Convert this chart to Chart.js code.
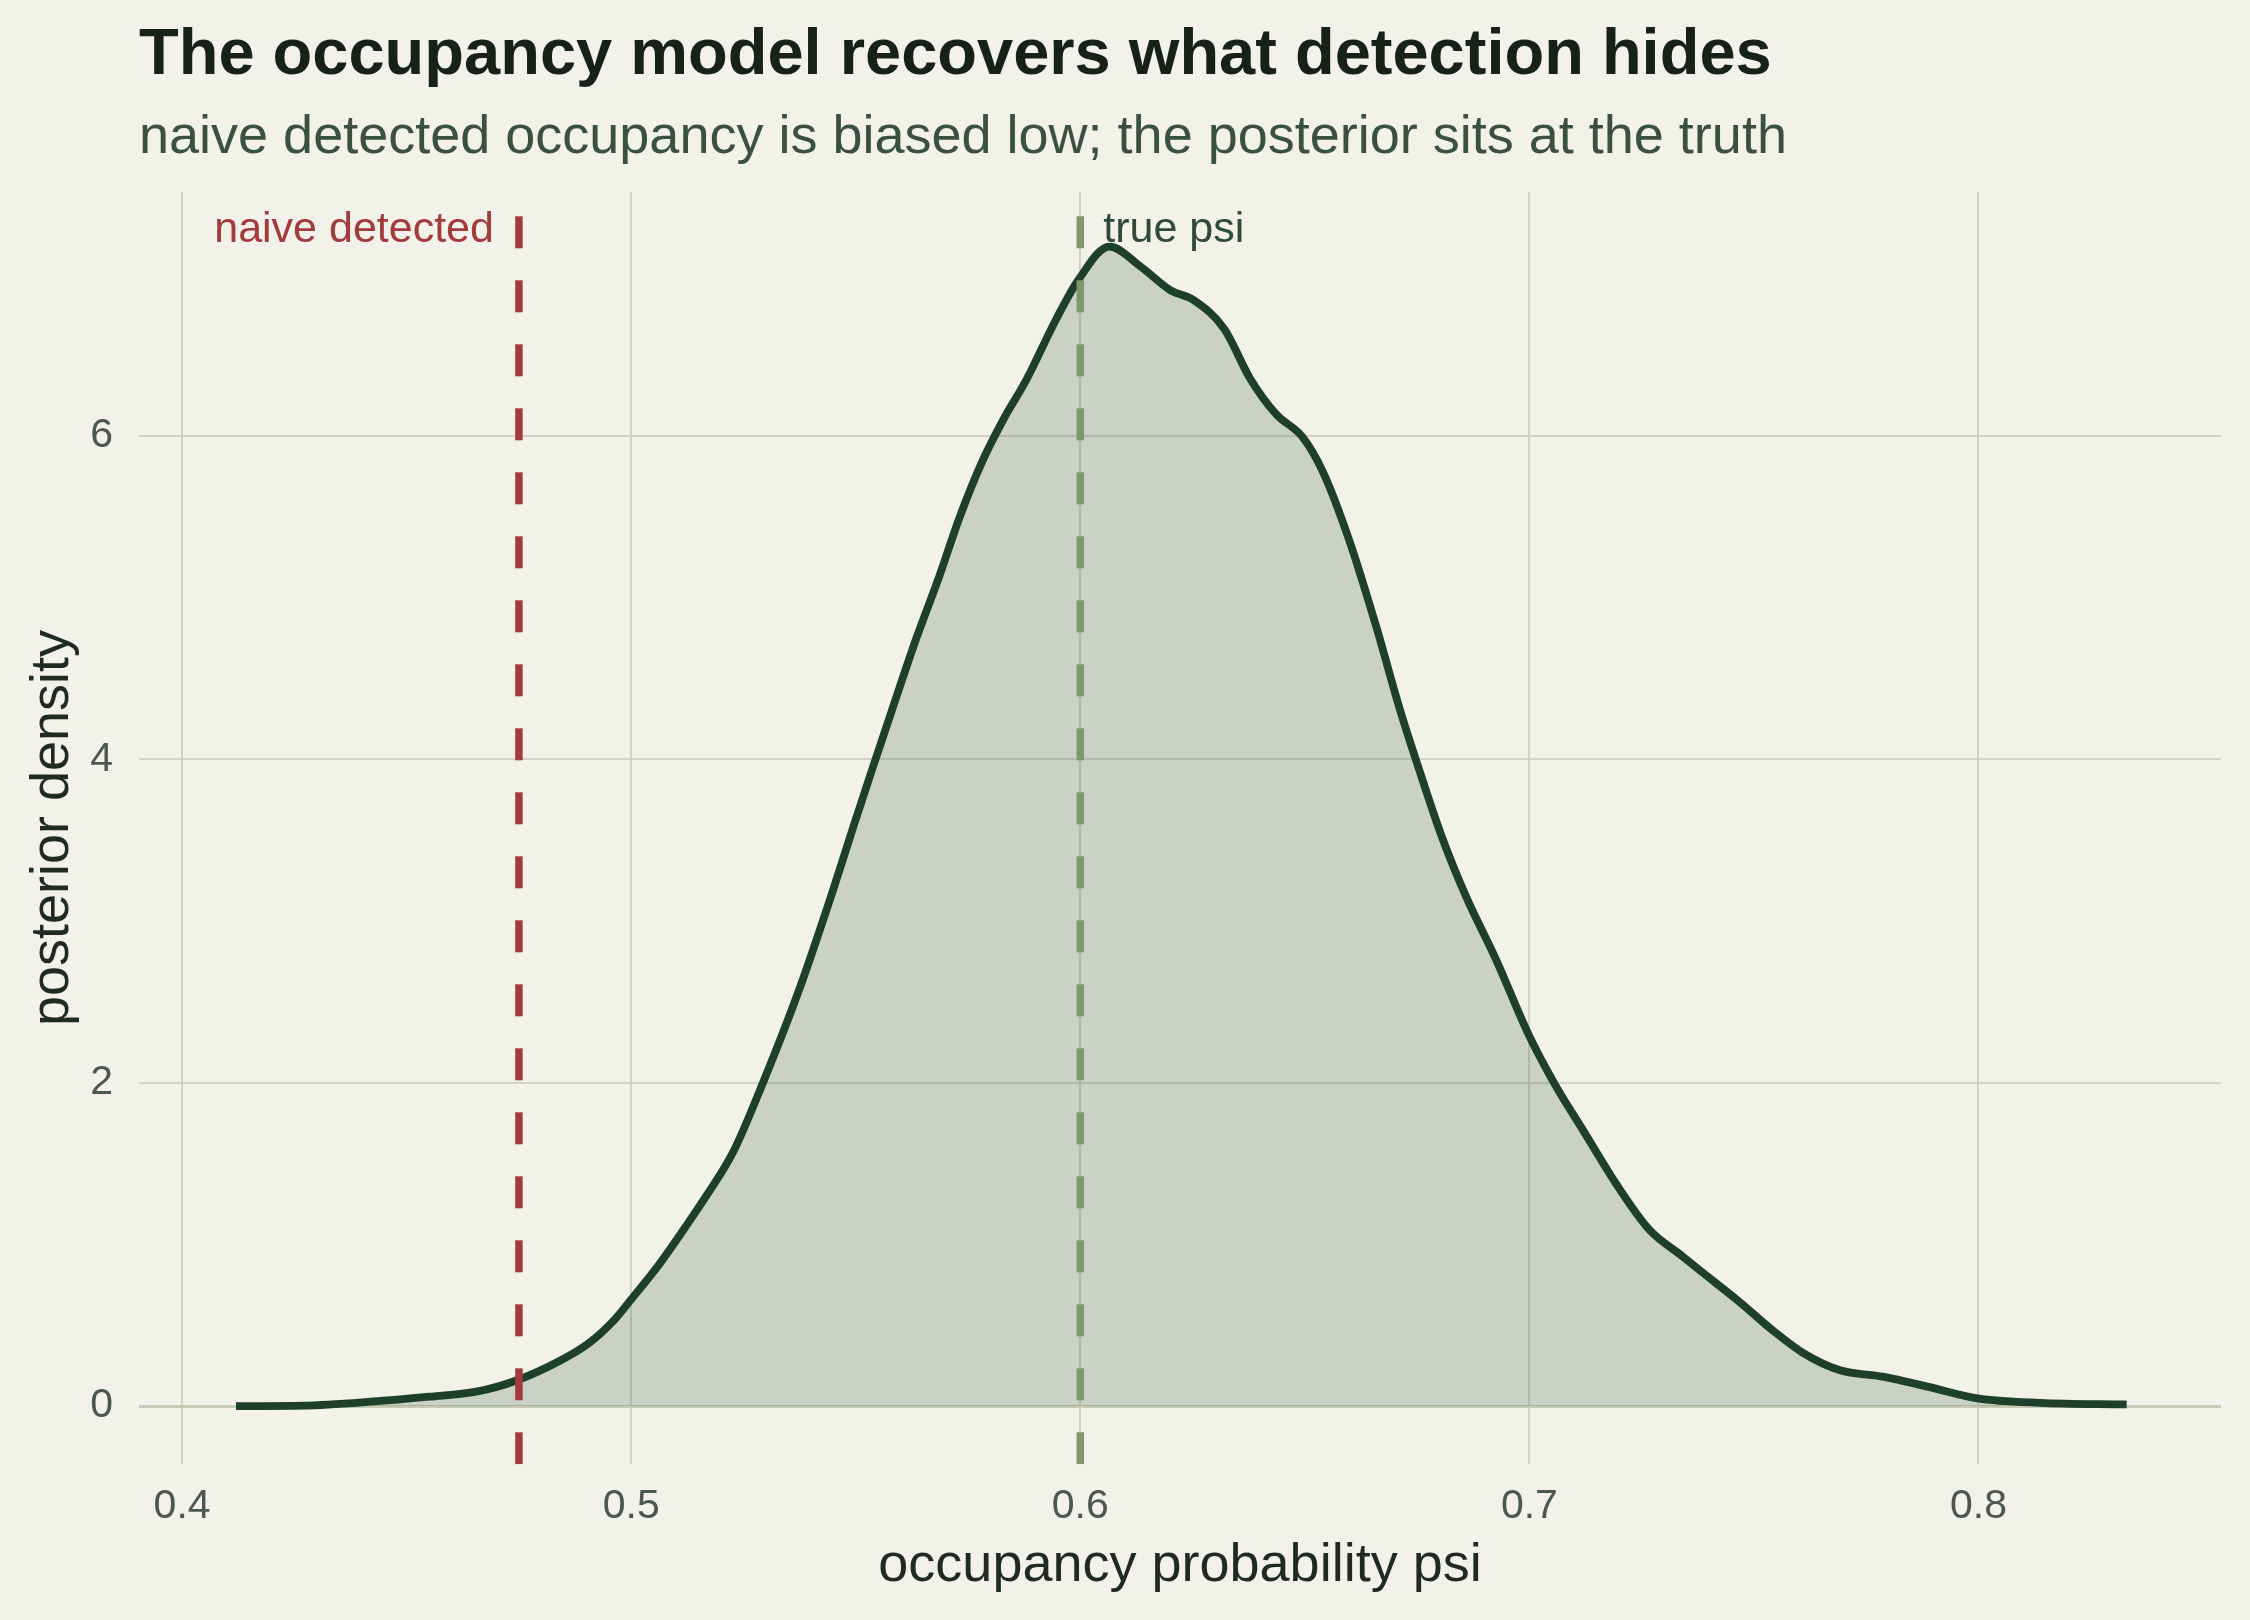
<!DOCTYPE html>
<html>
<head>
<meta charset="utf-8">
<script src="https://cdn.jsdelivr.net/npm/chart.js@4.4.1/dist/chart.umd.min.js"></script>
<style>
html,body{margin:0;padding:0;background:#f2f1ea;}
canvas{display:block;}
</style>
</head>
<body>
<canvas id="c" width="2250" height="1620"></canvas>
<script>
// ---- data ----
const psiGrid = [0.412,0.427,0.442,0.455,0.4655,0.4746,0.4837,0.4905,0.4962,0.500,0.5064,0.5121,0.5166,0.5227,0.5293,0.5375,0.5449,0.5494,0.5538,0.5583,0.5635,0.5687,0.5731,0.5783,0.5828,0.5880,0.5946,0.5997,0.6065,0.6133,0.6201,0.6252,0.6321,0.6377,0.6436,0.6495,0.6540,0.6599,0.6659,0.6710,0.6755,0.6807,0.6859,0.6926,0.6998,0.7059,0.7118,0.7193,0.7267,0.7342,0.7378,0.7472,0.7541,0.7611,0.769,0.779,0.7889,0.7998,0.8137,0.833];
const posteriorDensity = [0.0,0.003,0.027,0.058,0.089,0.16,0.274,0.388,0.532,0.66,0.883,1.109,1.295,1.571,1.997,2.583,3.187,3.577,3.95,4.323,4.749,5.139,5.495,5.850,6.098,6.347,6.72,6.97,7.17,7.05,6.90,6.84,6.66,6.36,6.134,5.992,5.779,5.353,4.820,4.323,3.932,3.506,3.151,2.760,2.299,1.979,1.713,1.375,1.091,0.924,0.843,0.635,0.47,0.326,0.223,0.181,0.119,0.048,0.02,0.01];
const xTickValues = [0.4,0.5,0.6,0.7,0.8];
const yTickValues = [0,2,4,6];
const naiveDetected = 0.475;
const truePsi = 0.6;
const xRange = [0.3904, 0.854];
const yRange = [-0.36, 7.51];
const labelLevel = 7.2;

const titleText = "The occupancy model recovers what detection hides";
const subtitleText = "naive detected occupancy is biased low; the posterior sits at the truth";
const xAxisLabel = "occupancy probability psi";
const yAxisLabel = "posterior density";
const naiveLabel = "naive detected";
const trueLabel = "true psi";

const FONT = '"Liberation Sans", Arial, Helvetica, sans-serif';

const curvePoints = psiGrid.map((x, i) => ({x: x, y: posteriorDensity[i]}));
const vline = v => [{x: v, y: yRange[0]}, {x: v, y: yRange[1]}];

const decor = {
  id: 'decor',
  beforeDraw(chart) {
    const ctx = chart.ctx;
    ctx.save();
    ctx.fillStyle = '#f2f1ea';
    ctx.fillRect(0, 0, chart.width, chart.height);
    ctx.restore();
  },
  afterDraw(chart) {
    const ctx = chart.ctx;
    const left = chart.chartArea.left;
    const xs = chart.scales.x, ys = chart.scales.y;
    ctx.save();
    ctx.textAlign = 'left';
    ctx.textBaseline = 'alphabetic';
    ctx.fillStyle = '#16211a';
    ctx.font = 'bold 65px ' + FONT;
    ctx.fillText(titleText, left, 74);
    ctx.fillStyle = '#3a5141';
    ctx.font = '54px ' + FONT;
    ctx.fillText(subtitleText, left, 153);

    ctx.font = '43px ' + FONT;
    ctx.fillStyle = '#a33a3c';
    ctx.textAlign = 'right';
    ctx.fillText(naiveLabel, xs.getPixelForValue(naiveDetected) - 25, ys.getPixelForValue(labelLevel));
    ctx.fillStyle = '#2f4a38';
    ctx.textAlign = 'left';
    ctx.fillText(trueLabel, xs.getPixelForValue(truePsi) + 23, ys.getPixelForValue(labelLevel));
    ctx.restore();
  }
};

new Chart(document.getElementById('c'), {
  type: 'line',
  data: {
    datasets: [
      {
        label: 'naive',
        data: vline(naiveDetected),
        borderColor: '#a33a3c',
        borderWidth: 7.5,
        borderDash: [32, 32],
        borderCapStyle: 'butt',
        pointRadius: 0,
        fill: false
      },
      {
        label: 'true',
        data: vline(truePsi),
        borderColor: '#7f9869',
        borderWidth: 7.5,
        borderDash: [32, 32],
        borderCapStyle: 'butt',
        pointRadius: 0,
        fill: false
      },
      {
        label: 'posterior',
        data: curvePoints,
        borderColor: '#1e3f2a',
        borderWidth: 7.8,
        borderJoinStyle: 'round',
        borderCapStyle: 'butt',
        backgroundColor: 'rgba(47,86,59,0.2)',
        fill: 'origin',
        pointRadius: 0,
        cubicInterpolationMode: 'monotone'
      }
    ]
  },
  options: {
    responsive: false,
    devicePixelRatio: 1,
    animation: false,
    events: [],
    layout: { padding: { left: 0, right: 29, top: 191.7, bottom: 0 } },
    plugins: { legend: { display: false }, tooltip: { enabled: false } },
    scales: {
      x: {
        type: 'linear',
        min: xRange[0],
        max: xRange[1],
        afterFit(scale) { scale.height = 1620 - 1464.3; },
        afterBuildTicks(scale) { scale.ticks = xTickValues.map(v => ({value: v})); },
        border: { display: false },
        grid: { color: '#d3d4c3', lineWidth: 2, drawTicks: false },
        ticks: {
          autoSkip: false,
          includeBounds: false,
          padding: 18,
          color: '#4b574f',
          font: { family: FONT, size: 41 },
          callback: v => v.toFixed(1)
        },
        title: {
          display: true,
          text: xAxisLabel,
          color: '#1f2a23',
          font: { family: FONT, size: 54 },
          padding: { top: 0, bottom: 21 }
        }
      },
      y: {
        type: 'linear',
        min: yRange[0],
        max: yRange[1],
        afterFit(scale) { scale.width = 139; },
        afterBuildTicks(scale) { scale.ticks = yTickValues.map(v => ({value: v})); },
        border: { display: false },
        grid: {
          color: ctx => ctx.tick && ctx.tick.value === 0 ? '#c8cab5' : '#d3d4c3',
          lineWidth: ctx => ctx.tick && ctx.tick.value === 0 ? 3 : 2,
          drawTicks: false
        },
        ticks: {
          autoSkip: false,
          includeBounds: false,
          padding: 26,
          color: '#4b574f',
          font: { family: FONT, size: 41 },
          callback: v => String(v)
        },
        title: {
          display: true,
          text: yAxisLabel,
          color: '#1f2a23',
          font: { family: FONT, size: 54 },
          padding: { top: 21, bottom: 0 }
        }
      }
    }
  },
  plugins: [decor]
});
</script>
</body>
</html>
